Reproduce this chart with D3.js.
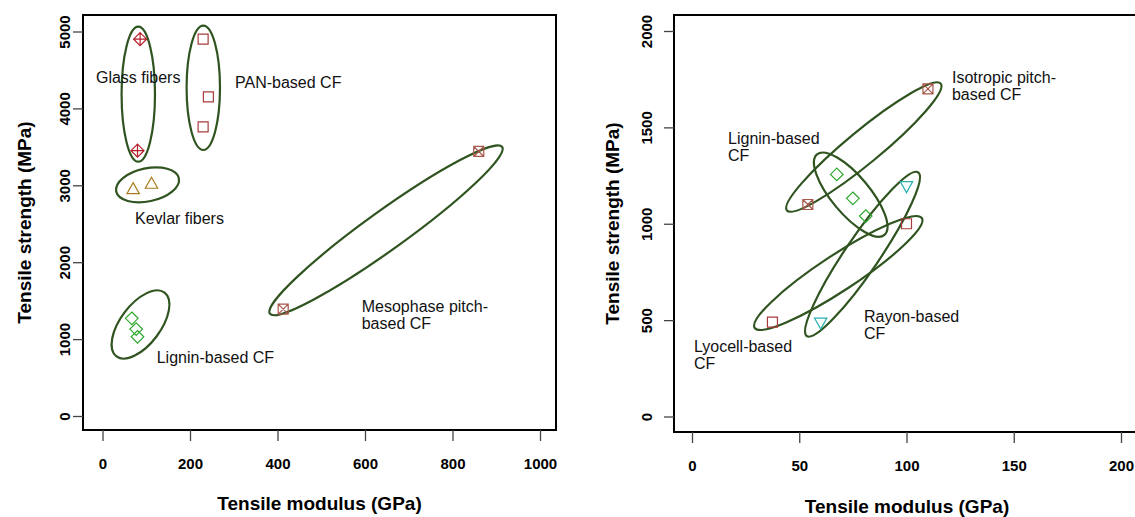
<!DOCTYPE html>
<html><head><meta charset="utf-8">
<script src="https://cdn.jsdelivr.net/npm/d3@7"></script>
<style>body{margin:0;background:#fff}svg{display:block}text{font-family:"Liberation Sans",Arial,sans-serif}</style>
</head><body><svg id="c" width="1135" height="517"></svg>
<script>
// ---------- data ----------
const leftXTicks = [0,200,400,600,800,1000];
const leftYTicks = [0,1000,2000,3000,4000,5000];
const rightXTicks = [0,50,100,150,200];
const rightYTicks = [0,500,1000,1500,2000];

const glassFibers = [[86,4900],[80,3450]];
const panCF = [[230,4900],[242,4150],[230,3760]];
const kevlarFibers = [[70,2950],[112,3020]];
const ligninCF = [[67,1270],[77,1130],[80,1030]];
const mesophaseCF = [[860,3440],[413,1390]];

const isotropicCF = [[110,1700],[54,1100]];
const ligninCF2 = [[67.5,1256],[75,1132],[81,1040]];
const rayonCF = [[100,1195],[60,487]];
const lyocellCF = [[100,1000],[37.5,490]];

// group ellipses: centre in data units
const leftGroupCentres = [[81.8,4185],[230.4,4268],[102.9,3006],[86.9,1190],[648,2415]];
const rightGroupCentres = [[80.1,1398],[74.0,1151],[79.5,842],[68.2,744.5]];

const leftLabels = [["Glass fibers"],["PAN-based CF"],["Kevlar fibers"],["Lignin-based CF"],["Mesophase pitch-","based CF"]];
const leftLabelPos = [[-14.9,4324],[302.9,4265],[74.3,2503],[123.9,683],[592.5,1352]];
const rightLabels = [["Isotropic pitch-","based CF"],["Lignin-based","CF"],["Rayon-based","CF"],["Lyocell-based","CF"]];
const rightLabelPos = [[121.2,1730],[16.8,1416],[80.2,490],[0.9,335]];

// ---------- styling ----------
const ELL = "#2f5420";
const leftEllShape = [[16.7,67.5,0],[16.7,62.2,0],[32,16.5,-12],[40,20,-53],[143,19.5,-35.7]];
const rightEllShape = [[99.7,16.5,-39.5],[52.5,19,50],[99,17,-55.8],[100,18,-33.3]];

const svg = d3.select("#c");

function symbolPath(type){
  const p = d3.path();
  if(type==="square"){ const h=5; p.rect(-h,-h,2*h,2*h); }
  if(type==="squareX"){ const h=5; p.rect(-h,-h,2*h,2*h); p.moveTo(-h,-h);p.lineTo(h,h);p.moveTo(h,-h);p.lineTo(-h,h); }
  if(type==="diamond"){ const h=6.3; p.moveTo(0,-h);p.lineTo(h,0);p.lineTo(0,h);p.lineTo(-h,0);p.closePath(); }
  if(type==="diamondPlus"){ const h=6.5; p.moveTo(0,-h);p.lineTo(h,0);p.lineTo(0,h);p.lineTo(-h,0);p.closePath(); p.moveTo(0,-h);p.lineTo(0,h);p.moveTo(-h,0);p.lineTo(h,0); }
  if(type==="triUp"){ const w=6.2; p.moveTo(0,-6.5);p.lineTo(w,4.5);p.lineTo(-w,4.5);p.closePath(); }
  if(type==="triDown"){ const w=6.2; p.moveTo(0,6.5);p.lineTo(w,-4.5);p.lineTo(-w,-4.5);p.closePath(); }
  return p.toString();
}

function panel(cfg){
  const x = d3.scaleLinear().domain(cfg.xd).range(cfg.xr);
  const y = d3.scaleLinear().domain(cfg.yd).range(cfg.yr);
  const g = svg.append("g");
  cfg.centres.forEach((c,i)=>{
    const s = cfg.shapes[i];
    g.append("ellipse").attr("cx",0).attr("cy",0).attr("rx",s[0]).attr("ry",s[1])
      .attr("transform",`translate(${x(c[0])},${y(c[1])}) rotate(${s[2]})`)
      .attr("fill","none").attr("stroke",ELL).attr("stroke-width",2.2);
  });
  cfg.series.forEach(se=>{
    g.selectAll(null).data(se.data).enter().append("path")
      .attr("d",symbolPath(se.sym))
      .attr("transform",d=>`translate(${x(d[0])},${y(d[1])})`)
      .attr("fill","none").attr("stroke",se.color).attr("stroke-width",se.w||1.2);
  });
  cfg.labels.forEach((lines,i)=>{
    const t = g.append("text").attr("x",x(cfg.labelPos[i][0])).attr("y",y(cfg.labelPos[i][1]))
      .attr("font-size",16).attr("fill","#111");
    lines.forEach((ln,j)=>t.append("tspan").attr("x",x(cfg.labelPos[i][0])).attr("dy",j?17:0).text(ln));
  });
  g.append("rect").attr("x",cfg.box[0]).attr("y",cfg.box[1]).attr("width",cfg.box[2]-cfg.box[0]).attr("height",cfg.box[3]-cfg.box[1])
    .attr("fill","none").attr("stroke","#000").attr("stroke-width",2);
  const xa = g.append("g").attr("transform",`translate(0,${cfg.box[3]})`)
    .call(d3.axisBottom(x).tickValues(cfg.xt).tickSize(11).tickSizeOuter(0).tickPadding(17).tickFormat(d3.format("d")));
  xa.select(".domain").remove();
  xa.selectAll("line").attr("stroke","#444").attr("stroke-width",1.3);
  xa.selectAll("text").attr("font-size",15).attr("font-weight","bold").attr("fill","#000")
    .attr("font-family","Liberation Sans, Arial, sans-serif");
  const ya = g.append("g").attr("transform",`translate(${cfg.box[0]},0)`)
    .call(d3.axisLeft(y).tickValues(cfg.yt).tickSize(10).tickSizeOuter(0).tickFormat(d3.format("d")));
  ya.select(".domain").remove();
  ya.selectAll("line").attr("stroke","#444").attr("stroke-width",1.3);
  ya.selectAll("text").remove();
  ya.selectAll(".tick").append("text")
    .attr("transform",`translate(${cfg.ylabX - cfg.box[0]},0) rotate(-90)`)
    .attr("text-anchor","middle").attr("font-size",15).attr("font-weight","bold").attr("fill","#000")
    .attr("font-family","Liberation Sans, Arial, sans-serif")
    .text(d=>d);
  g.append("text").attr("x",(cfg.box[0]+cfg.box[2])/2).attr("y",cfg.xTitleY).attr("text-anchor","middle")
    .attr("font-size",19).attr("font-weight","bold").text("Tensile modulus (GPa)");
  g.append("text").attr("transform",`translate(${cfg.yTitleX},${(cfg.box[1]+cfg.box[3])/2}) rotate(-90)`)
    .attr("text-anchor","middle").attr("font-size",19).attr("font-weight","bold").text("Tensile strength (MPa)");
}

panel({
  xd:[0,1000], xr:[102.5,540], yd:[0,5000], yr:[416,31.5],
  box:[83,15,556,430], xt:leftXTicks, yt:leftYTicks, ylabX:70, xTitleY:510, yTitleX:31,
  centres:leftGroupCentres, shapes:leftEllShape,
  labels:leftLabels, labelPos:leftLabelPos,
  series:[
    {data:glassFibers, sym:"diamondPlus", color:"#b5202a"},
    {data:panCF, sym:"square", color:"#a83c3c"},
    {data:kevlarFibers, sym:"triUp", color:"#a97c1c"},
    {data:ligninCF, sym:"diamond", color:"#2ea82e"},
    {data:mesophaseCF, sym:"squareX", color:"#a8584a"}
  ]
});
panel({
  xd:[0,200], xr:[692,1121], yd:[0,2000], yr:[416.5,31],
  box:[674,15,1140,432], xt:rightXTicks, yt:rightYTicks, ylabX:652, xTitleY:513, yTitleX:619,
  centres:rightGroupCentres, shapes:rightEllShape,
  labels:rightLabels, labelPos:rightLabelPos,
  series:[
    {data:isotropicCF, sym:"squareX", color:"#a8584a"},
    {data:ligninCF2, sym:"diamond", color:"#2ea82e"},
    {data:rayonCF, sym:"triDown", color:"#2ab0b0"},
    {data:lyocellCF, sym:"square", color:"#a83c3c"}
  ]
});
</script></body></html>
